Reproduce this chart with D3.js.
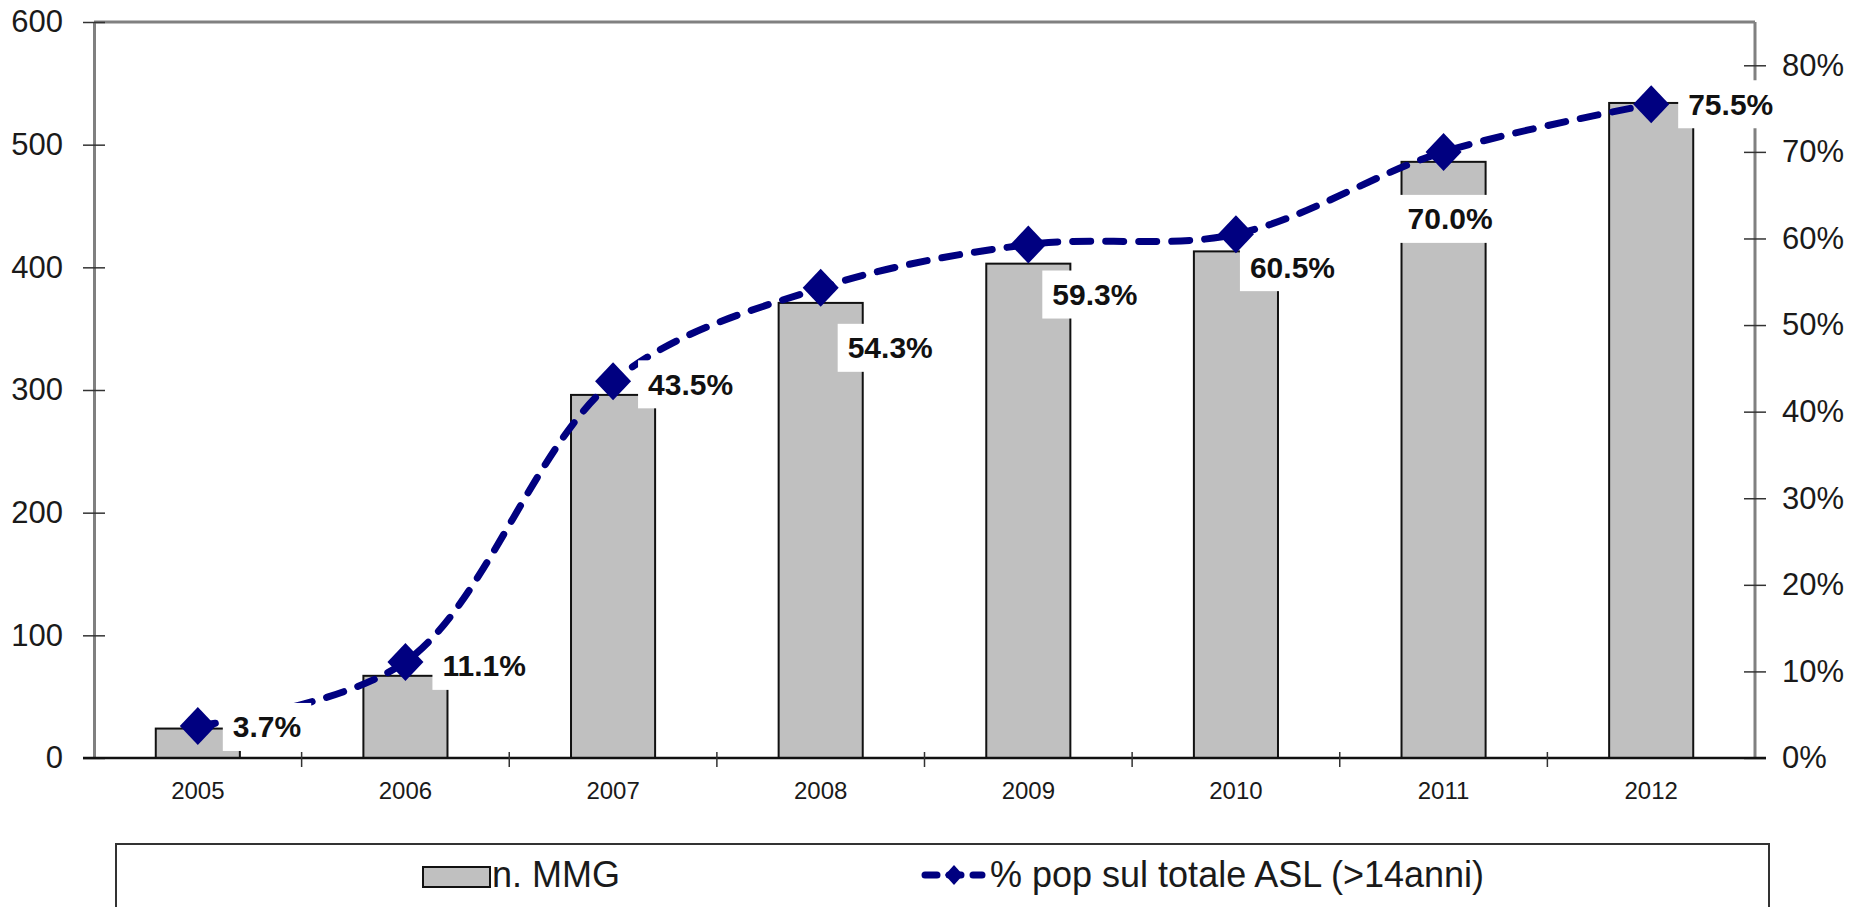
<!DOCTYPE html>
<html>
<head>
<meta charset="utf-8">
<script src="https://cdn.jsdelivr.net/npm/d3@7"></script>
<style>
  html, body { margin: 0; padding: 0; background: #fff; }
  svg { display: block; font-family: "Liberation Sans", Arial, sans-serif; }
</style>
</head>
<body>
<svg id="chart" width="1852" height="907"></svg>
<script>
// ---- data ----
const years = ["2005", "2006", "2007", "2008", "2009", "2010", "2011", "2012"];
const mmgCounts = [24, 67, 296, 371, 403, 413, 486, 534];
const popShare = [0.037, 0.111, 0.435, 0.543, 0.593, 0.605, 0.700, 0.755];
const leftTicks = [0, 100, 200, 300, 400, 500, 600];
const rightTicks = [0, 0.1, 0.2, 0.3, 0.4, 0.5, 0.6, 0.7, 0.8];
const seriesNames = ["n. MMG", "% pop sul totale ASL (>14anni)"];

// ---- layout ----
const plot = { left: 94, right: 1755, top: 22, bottom: 758 };
// per-point label placement: text start offset and vertical centre offset from the marker
const labelPlacement = [[35, 1], [37, 4], [35, 3], [27, 60], [24, 50], [14, 33], [-36, 67], [37, 0]];

const navy = "#000080";
const svg = d3.select("#chart");

const x = d3.scaleBand().domain(years).range([plot.left, plot.right]).padding(0);
const yLeft = d3.scaleLinear().domain([0, 600]).range([plot.bottom, plot.top]);
const yRight = d3.scaleLinear().domain([0, 0.85]).range([plot.bottom, plot.top]);
const pct = d3.format(".1%");
const pctAxis = d3.format(".0%");

// plot-area frame (top edge)
svg.append("line")
  .attr("x1", plot.left).attr("x2", plot.right)
  .attr("y1", plot.top).attr("y2", plot.top)
  .attr("stroke", "#808080").attr("stroke-width", 3);

// bars
const barW = x.bandwidth() * 0.405;
svg.append("g").selectAll("rect")
  .data(years)
  .join("rect")
  .attr("x", (d) => x(d) + (x.bandwidth() - barW) / 2)
  .attr("y", (d, i) => yLeft(mmgCounts[i]))
  .attr("width", barW)
  .attr("height", (d, i) => yLeft(0) - yLeft(mmgCounts[i]))
  .attr("fill", "#c0c0c0")
  .attr("stroke", "#111")
  .attr("stroke-width", 2);

// left axis
const gL = svg.append("g")
  .attr("transform", `translate(${plot.left},0)`)
  .call(d3.axisLeft(yLeft).tickValues(leftTicks).tickSizeOuter(0).tickSizeInner(11).tickPadding(20));
gL.select(".domain").attr("stroke", "#808080").attr("stroke-width", 3);
gL.selectAll(".tick line").attr("x1", -11).attr("x2", 11).attr("stroke", "#333").attr("stroke-width", 1.5);
gL.selectAll(".tick text").attr("font-size", 31).attr("fill", "#1a1a1a")
  .attr("font-family", "Liberation Sans, Arial, sans-serif");

// right axis
const gR = svg.append("g")
  .attr("transform", `translate(${plot.right},0)`)
  .call(d3.axisRight(yRight).tickValues(rightTicks).tickFormat(pctAxis).tickSizeOuter(0).tickSizeInner(11).tickPadding(16));
gR.select(".domain").attr("stroke", "#808080").attr("stroke-width", 3)
  .attr("d", `M0,${plot.top}V${plot.bottom}`);
gR.selectAll(".tick line").attr("x1", -11).attr("x2", 11).attr("stroke", "#333").attr("stroke-width", 1.5);
gR.selectAll(".tick text").attr("font-size", 31).attr("fill", "#1a1a1a")
  .attr("font-family", "Liberation Sans, Arial, sans-serif");

// category axis
const gX = svg.append("g")
  .attr("transform", `translate(0,${plot.bottom})`)
  .call(d3.axisBottom(x).tickSize(0).tickPadding(24));
gX.select(".domain").attr("stroke", "#111").attr("stroke-width", 2.5)
  .attr("d", `M${plot.left - 11},0H${plot.right + 11}`);
gX.selectAll(".tick text").attr("font-size", 24).attr("fill", "#1a1a1a")
  .attr("font-family", "Liberation Sans, Arial, sans-serif");
// tick marks at category boundaries
const bounds = years.map((d) => x(d)).concat([x.range()[1]]);
gX.append("g").selectAll("line")
  .data(bounds.slice(1, -1))
  .join("line")
  .attr("x1", (d) => d).attr("x2", (d) => d)
  .attr("y1", -6).attr("y2", 9)
  .attr("stroke", "#333").attr("stroke-width", 1.5);

// percentage line (smoothed)
const pts = years.map((d, i) => [x(d) + x.bandwidth() / 2, yRight(popShare[i])]);
const line = d3.line().curve(d3.curveCatmullRom.alpha(0.5));
svg.append("path")
  .attr("d", line(pts))
  .attr("fill", "none")
  .attr("stroke", navy)
  .attr("stroke-width", 7)
  .attr("stroke-linecap", "round")
  .attr("stroke-dasharray", "18,15");

// data labels (white boxes behind bold text)
const labels = svg.append("g");
pts.forEach((p, i) => {
  const [dx, dy] = labelPlacement[i];
  const tx = p[0] + dx, ty = p[1] + dy;
  const g = labels.append("g");
  const rect = g.append("rect").attr("fill", "#fff");
  const t = g.append("text")
    .attr("x", tx).attr("y", ty)
    .attr("font-size", 30)
    .attr("font-weight", "bold")
    .attr("fill", "#111")
    .attr("dominant-baseline", "central")
    .text(pct(popShare[i]));
  const w = t.node().getComputedTextLength();
  rect.attr("x", tx - 10).attr("y", ty - 24).attr("width", w + 20).attr("height", 48);
});

// markers
const diamond = (cx, cy, hw, hh) => `M${cx},${cy - hh}L${cx + hw},${cy}L${cx},${cy + hh}L${cx - hw},${cy}Z`;
svg.append("g").selectAll("path")
  .data(pts)
  .join("path")
  .attr("d", (p) => diamond(p[0], p[1], 18, 19))
  .attr("fill", navy);

// legend
const legend = svg.append("g");
legend.append("rect")
  .attr("x", 116).attr("y", 844).attr("width", 1769 - 116).attr("height", 120)
  .attr("fill", "#fff").attr("stroke", "#333").attr("stroke-width", 2);
legend.append("rect")
  .attr("x", 423).attr("y", 867).attr("width", 67).attr("height", 20)
  .attr("fill", "#c0c0c0").attr("stroke", "#111").attr("stroke-width", 2);
legend.append("text")
  .attr("x", 492).attr("y", 887)
  .attr("font-size", 36).attr("fill", "#1a1a1a")
  .text(seriesNames[0]);
legend.append("line")
  .attr("x1", 925).attr("x2", 982).attr("y1", 875).attr("y2", 875)
  .attr("stroke", navy).attr("stroke-width", 7)
  .attr("stroke-linecap", "round").attr("stroke-dasharray", "12,12");
legend.append("path")
  .attr("d", diamond(954, 875, 9, 10))
  .attr("fill", navy);
legend.append("text")
  .attr("x", 990).attr("y", 887)
  .attr("font-size", 36).attr("fill", "#1a1a1a")
  .text(seriesNames[1]);
</script>
</body>
</html>
